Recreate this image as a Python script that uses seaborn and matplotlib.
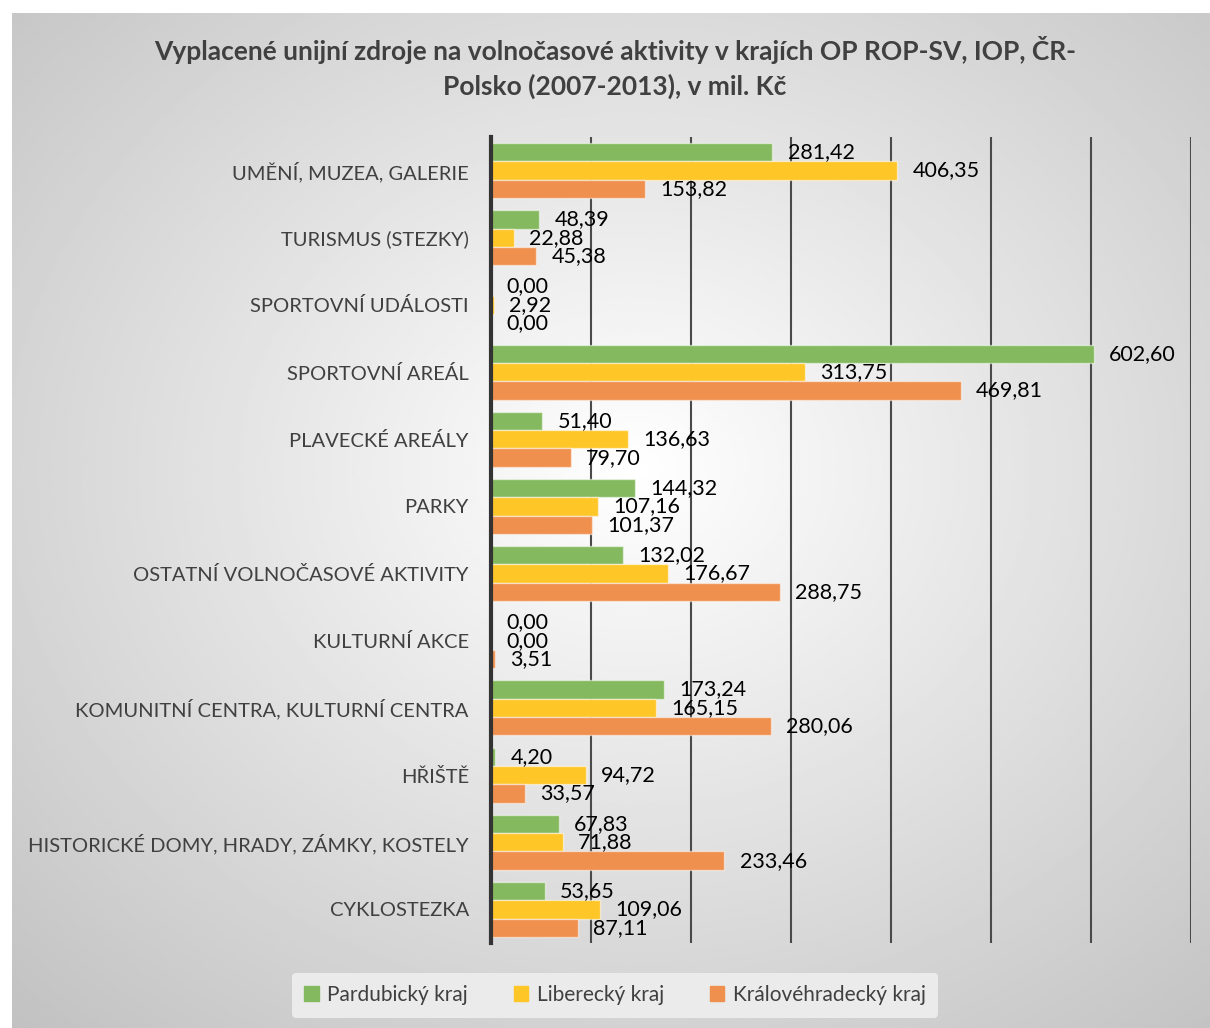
import numpy as np
import pandas as pd
import seaborn as sns
import matplotlib.pyplot as plt

categories = [
    'UMĚNÍ, MUZEA, GALERIE',
    'TURISMUS (STEZKY)',
    'SPORTOVNÍ UDÁLOSTI',
    'SPORTOVNÍ AREÁL',
    'PLAVECKÉ AREÁLY',
    'PARKY',
    'OSTATNÍ VOLNOČASOVÉ AKTIVITY',
    'KULTURNÍ AKCE',
    'KOMUNITNÍ CENTRA, KULTURNÍ CENTRA',
    'HŘIŠTĚ',
    'HISTORICKÉ DOMY, HRADY, ZÁMKY, KOSTELY',
    'CYKLOSTEZKA',
]
pardubicky = [281.42, 48.39, 0.00, 602.60, 51.40, 144.32, 132.02, 0.00, 173.24, 4.20, 67.83, 53.65]
liberecky = [406.35, 22.88, 2.92, 313.75, 136.63, 107.16, 176.67, 0.00, 165.15, 94.72, 71.88, 109.06]
kralovehradecky = [153.82, 45.38, 0.00, 469.81, 79.70, 101.37, 288.75, 3.51, 280.06, 33.57, 233.46, 87.11]
series = ['Pardubický kraj', 'Liberecký kraj', 'Královéhradecký kraj']
colors = ['#84b95f', '#ffc628', '#f0904f']

rows = []
for name, vals in zip(series, [pardubicky, liberecky, kralovehradecky]):
    for cat, v in zip(categories, vals):
        rows.append({'Kategorie': cat, 'Hodnota': v, 'Kraj': name})
df = pd.DataFrame(rows)

sns.set_style('white')
plt.rcParams['font.family'] = ['Lato', 'DejaVu Sans']

W, H = 1210, 1028
fig = plt.figure(figsize=(W / 100, H / 100), dpi=100)

# radial gradient background
bg = fig.add_axes([12 / W, 0, 1 - 12 / W, (H - 13) / H])
yy, xx = np.mgrid[0:1:400j, 0:1:400j]
r = np.sqrt(((xx - 0.52) / 0.75) ** 2 + ((yy - 0.55) / 0.75) ** 2)
r = np.clip(r, 0, 1)
shade = 1.0 - 0.24 * r
bg.imshow(shade, cmap='gray', vmin=0, vmax=1, extent=[0, 1, 0, 1], aspect='auto', origin='lower')
bg.axis('off')

ax = fig.add_axes([491 / W, 85 / H, 700 / W, 806 / H])
ax.set_facecolor('none')
sns.barplot(data=df, y='Kategorie', x='Hodnota', hue='Kraj', hue_order=series,
            palette=colors, saturation=1, orient='h', width=0.82, ax=ax,
            edgecolor=(1, 1, 1, 0.5), linewidth=1)

for cont in ax.containers:
    ax.bar_label(cont, labels=[f'{b.get_width():.2f}'.replace('.', ',') for b in cont],
                 padding=11, fontsize=15.5, color='black')

ax.set_xlim(0, 700)
ax.set_xticks(range(0, 701, 100))
ax.set_xticklabels([])
ax.grid(axis='x', color='#4a4a4a', linewidth=1.5)
ax.set_axisbelow(True)
ax.tick_params(axis='both', length=0)
ax.tick_params(axis='y', pad=16, labelsize=14.5, labelcolor='#404040')
ax.set_xlabel('')
ax.set_ylabel('')
for s in ['top', 'right', 'bottom']:
    ax.spines[s].set_visible(False)
ax.spines['left'].set_color('#333333')
ax.spines['left'].set_linewidth(3)

fig.suptitle('Vyplacené unijní zdroje na volnočasové aktivity v krajích OP ROP-SV, IOP, ČR-\nPolsko (2007-2013), v mil. Kč',
             x=615 / W, y=1 - 36 / H, fontsize=19, fontweight='bold', color='#404040',
             linespacing=1.45, va='top')

ax.legend_.remove()
handles = [plt.Rectangle((0, 0), 1, 1, color=c) for c in colors]
leg = fig.legend(handles, series, loc='center', bbox_to_anchor=(615 / W, 1 - 995 / H),
                 ncol=3, frameon=True, fontsize=15, handlelength=0.7, handleheight=0.7,
                 columnspacing=2.2, handletextpad=0.4, borderpad=0.6)
leg.get_frame().set_facecolor('#ebebeb')
leg.get_frame().set_edgecolor('none')
leg.get_frame().set_alpha(1)
for t in leg.get_texts():
    t.set_color('#404040')

fig.savefig('out.png', dpi=100)
